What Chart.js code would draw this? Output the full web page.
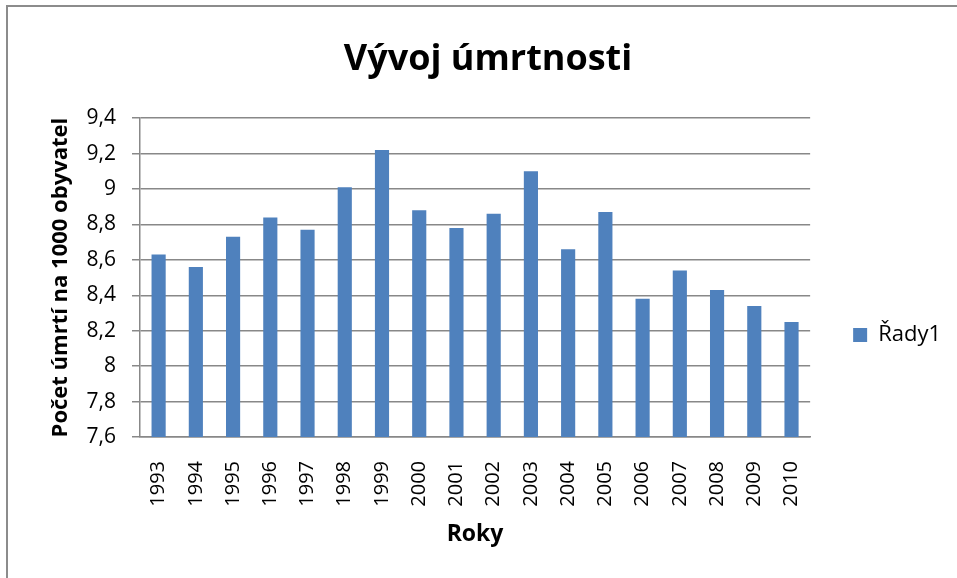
<!DOCTYPE html>
<html>
<head>
<meta charset="utf-8">
<script src="https://cdn.jsdelivr.net/npm/chart.js@4/dist/chart.umd.min.js"></script>
<style>
  body { margin: 0; background: #fff; }
  #frame { position: absolute; left: 6px; top: 5px; width: 1000px; height: 1000px;
           border-left: 2px solid #8c8c8c; border-top: 2px solid #8c8c8c; }
  #wrap { position: absolute; left: 0; top: 0; width: 957px; height: 578px; }
</style>
</head>
<body>
<div id="frame"></div>
<div id="wrap"><canvas id="chart"></canvas></div>
<script>
const years = ["1993", "1994", "1995", "1996", "1997", "1998", "1999", "2000", "2001",
  "2002", "2003", "2004", "2005", "2006", "2007", "2008", "2009", "2010"];
const deathRate = [8.63, 8.56, 8.73, 8.84, 8.77, 9.01, 9.22, 8.88, 8.78,
  8.86, 9.1, 8.66, 8.87, 8.38, 8.54, 8.43, 8.34, 8.25];
const seriesName = "Řady1";
const yMin = 7.6;
const yMax = 9.4;
const yStep = 0.2;

const font = "'Open Sans', sans-serif";
const gridGray = "#888888";

const ctx = document.getElementById("chart").getContext("2d");

new Chart(ctx, {
  type: "bar",
  data: {
    labels: years,
    datasets: [
      {
        label: seriesName,
        data: deathRate,
        backgroundColor: "#4f81bd",
        borderWidth: 0,
        barPercentage: 0.38,
        categoryPercentage: 1,
      },
    ],
  },
  options: {
    responsive: true,
    maintainAspectRatio: false,
    animation: false,
    layout: { padding: { left: 25, right: 6, top: 12, bottom: 30 } },
    scales: {
      y: {
        min: yMin,
        max: yMax,
        ticks: {
          stepSize: yStep,
          padding: 16,
          color: "#000",
          font: { family: font, size: 21 },
          callback: (v) => String(Number(v.toFixed(1))).replace(".", ","),
        },
        grid: { color: gridGray, lineWidth: 1.5, tickLength: 8 },
        border: { color: gridGray, width: 1.5 },
        title: {
          display: true,
          text: "Počet úmrtí na 1000 obyvatel",
          color: "#000",
          font: { family: font, size: 22, weight: "bold" },
          padding: { top: 23, bottom: 0 },
        },
        afterFit: (scale) => { scale.width = 115; },
      },
      // empty spacer between plot and legend
      gap: {
        type: "linear",
        position: "right",
        grid: { display: false },
        ticks: { display: false },
        border: { display: false },
        afterFit: (scale) => { scale.width = 33; },
      },
      x: {
        ticks: {
          minRotation: 90,
          maxRotation: 90,
          padding: 16,
          color: "#000",
          font: { family: font, size: 20 },
        },
        grid: { display: false },
        border: { color: gridGray, width: 1.5 },
        title: {
          display: true,
          text: "Roky",
          color: "#000",
          font: { family: font, size: 23, weight: "bold" },
          padding: { top: 0, bottom: 0 },
        },
        afterFit: (scale) => { scale.height = 111; },
      },
    },
    plugins: {
      title: {
        display: true,
        text: "Vývoj úmrtnosti",
        color: "#000",
        font: { family: font, size: 36, weight: "bold" },
        padding: { top: 26, bottom: 37 },
      },
      legend: {
        position: "right",
        title: { display: true, text: " ", font: { size: 10 }, padding: { top: 0, bottom: 98 } },
        labels: {
          boxWidth: 14,
          boxHeight: 14,
          color: "#000",
          font: { family: font, size: 22 },
        },
      },
      tooltip: { enabled: false },
    },
  },
});
</script>
</body>
</html>
